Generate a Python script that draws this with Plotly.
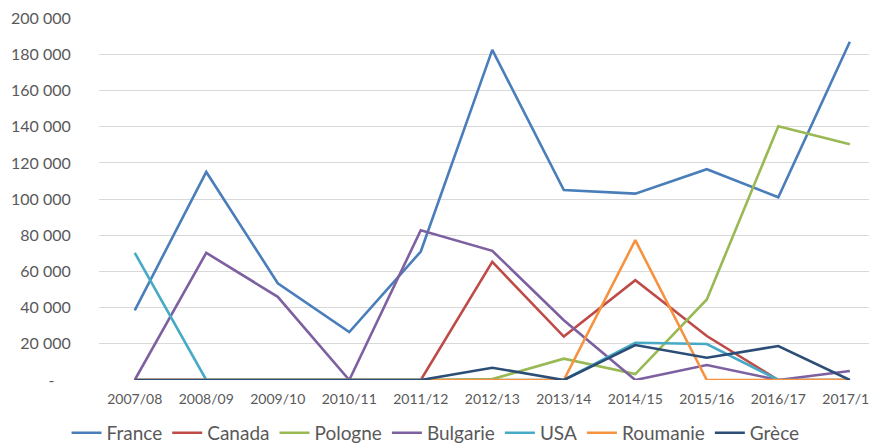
import plotly.graph_objects as go

categories = ["2007/08", "2008/09", "2009/10", "2010/11", "2011/12", "2012/13",
              "2013/14", "2014/15", "2015/16", "2016/17", "2017/18"]

france    = [38500, 115000, 53500, 26500, 71000, 182500, 105000, 103000, 116500, 101000, 187000]
canada    = [0, 0, 0, 0, 0, 65300, 24000, 55200, 24300, 0, 0]
pologne   = [0, 0, 0, 0, 0, 500, 11800, 3300, 44500, 140300, 130300]
bulgarie  = [0, 70300, 46000, 0, 82800, 71400, 33000, 0, 8300, 0, 5000]
usa       = [70300, 0, 0, 0, 0, 0, 0, 20600, 19900, 0, 0]
roumanie  = [0, 0, 0, 0, 0, 0, 0, 77300, 0, 0, 0]
grece     = [0, 0, 0, 0, 0, 6800, 0, 19300, 12300, 18800, 0]

series = [
    ("France", france, "#4A7EBB"),
    ("Canada", canada, "#BE4B48"),
    ("Pologne", pologne, "#98B954"),
    ("Bulgarie", bulgarie, "#7D60A0"),
    ("USA", usa, "#46AAC5"),
    ("Roumanie", roumanie, "#F69240"),
    ("Grèce", grece, "#2C4D75"),
]

y_ticks = [0, 20000, 40000, 60000, 80000, 100000, 120000, 140000, 160000, 180000, 200000]
y_ticktext = ["-\u00a0\u00a0\u00a0\u00a0"] + [f"{v // 1000} 000" for v in y_ticks[1:]]

fig = go.Figure()
for name, vals, color in series:
    fig.add_trace(go.Scatter(x=list(range(len(categories))), y=vals, name=name,
                             mode="lines", line=dict(color=color, width=2.6)))

fig.update_layout(
    width=869, height=439,
    margin=dict(l=91, r=0, t=10, b=67, autoexpand=False),
    paper_bgcolor="white", plot_bgcolor="white",
    font=dict(family="Lato", color="#595959"),
    showlegend=True,
    legend=dict(orientation="h", xref="container", yref="container",
                x=0.492, xanchor="center", y=0.032, yanchor="middle",
                font=dict(size=19, color="#595959"), itemwidth=30,
                tracegroupgap=0),
    xaxis=dict(range=[-0.5, 10.38], tickvals=list(range(len(categories))),
               ticktext=categories, showgrid=False, zeroline=False,
               showline=False, ticks="outside", ticklen=6, automargin=False,
               ticklabeloverflow="allow",
               tickcolor="rgba(0,0,0,0)", tickfont=dict(size=14)),
    yaxis=dict(range=[0, 200100], tickvals=y_ticks, ticktext=y_ticktext,
               showgrid=True, gridcolor="#D9D9D9", gridwidth=1, automargin=False,
               ticklabeloverflow="allow",
               zeroline=False, showline=False, ticks="outside", ticklen=24,
               tickcolor="rgba(0,0,0,0)", tickfont=dict(size=16)),
)

fig.write_html("out.html")
